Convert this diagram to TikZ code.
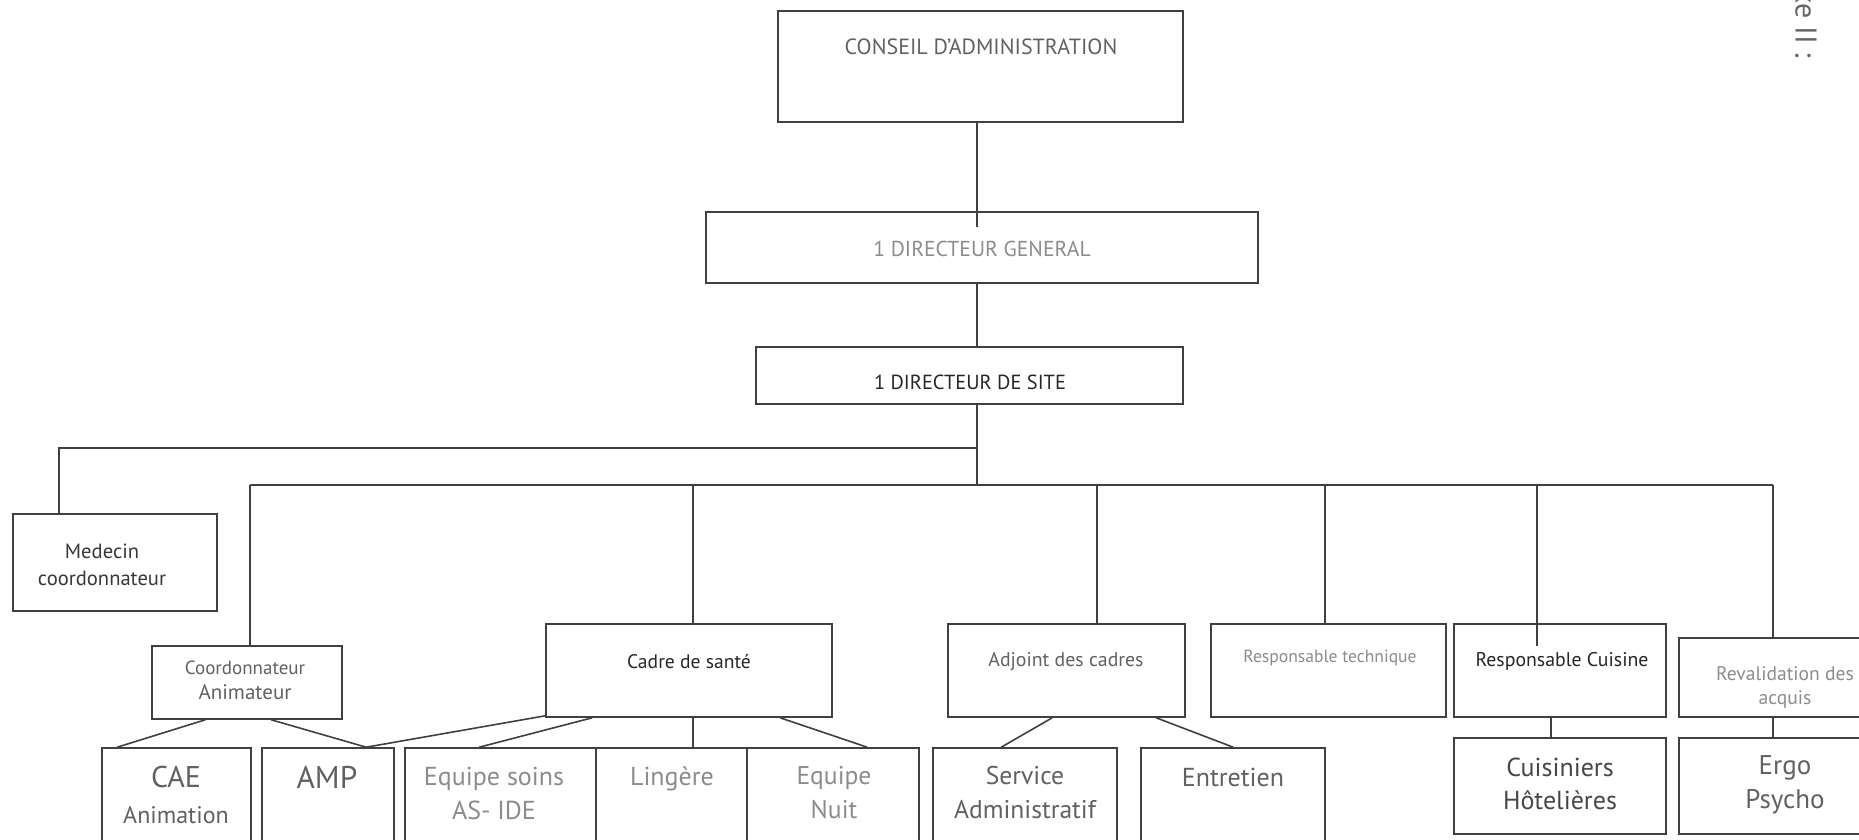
\documentclass[tikz,border=0pt]{standalone}
\usepackage{fontspec}
\setmainfont{PT Sans}
\usetikzlibrary{fit,calc}
\begin{document}
\begin{tikzpicture}[x=0.5pt,y=-0.5pt,
  box/.style={draw=black!75, line width=0.8pt, inner sep=0pt},
  conn/.style={draw=black!75, line width=0.8pt},
  fs/.style 2 args={inner sep=0pt, align=center, font=\fontsize{#1}{#2}\selectfont},
  dk/.style={text=black!85},
  md/.style={text=black!62},
  lt/.style={text=black!45}]
\useasboundingbox (0,0) rectangle (1859,840);
\clip (0,0) rectangle (1859,840);
% boxes
\node[box, fit={(778,11) (1183,122)}] (conseil) {};
\node[box, fit={(706,212) (1258,283)}] (dg) {};
\node[box, fit={(756,347) (1183,404)}] (ds) {};
\node[box, fit={(13,514) (217,611)}] (medecin) {};
\node[box, fit={(152,646) (342,719)}] (coord) {};
\node[box, fit={(546,624) (832,717)}] (cadre) {};
\node[box, fit={(948,624) (1185,717)}] (adjoint) {};
\node[box, fit={(1211,624) (1446,717)}] (tech) {};
\node[box, fit={(1454,624) (1666,717)}] (cuisine) {};
\node[box, fit={(1679,638) (1892,717)}] (reval) {};
\node[box, fit={(102,748) (251,870)}] (cae) {};
\node[box, fit={(262,748) (394,870)}] (amp) {};
\node[box, fit={(405,748) (596,870)}] (soins) {};
\node[box, fit={(596,748) (747,870)}] (lingere) {};
\node[box, fit={(747,748) (919,870)}] (nuit) {};
\node[box, fit={(933,748) (1117,870)}] (admin) {};
\node[box, fit={(1141,748) (1325,870)}] (entretien) {};
\node[box, fit={(1454,738) (1666,834)}] (cuisiniers) {};
\node[box, fit={(1679,738) (1892,834)}] (ergo) {};
% texts
\node[fs={11}{13}, md] (tconseil) at (981,47) {CONSEIL D’ADMINISTRATION};
\node[fs={10.8}{13}, lt] (tdg) at (982,249) {1 DIRECTEUR GENERAL};
\node[fs={10.2}{13}, dk] (tds) at (970,382) {1 DIRECTEUR DE SITE};
\node[fs={10.3}{13.5}, text=black!78] (tmed) at (102,565) {Medecin\\coordonnateur};
\node[fs={9.5}{12.5}, md] (tcoord) at (245,680) {Coordonnateur\\\fontsize{10.5}{12.5}\selectfont Animateur};
\node[fs={9.8}{12}, dk] (tcadre) at (689,662) {Cadre de santé};
\node[fs={9.9}{12}, md] (tadj) at (1066,662) {Adjoint des cadres};
\node[fs={8.8}{12}, lt] (ttech) at (1330,658) {Responsable technique};
\node[fs={9.9}{12}, dk] (tcuis) at (1562,661) {Responsable Cuisine};
\node[fs={9.8}{12}, lt] (treval1) at (1785,674) {Revalidation des};
\node[fs={9.8}{12}, lt] (treval2) at (1785,700) {acquis};
\node[fs={15}{18}, md] (tcae) at (176,795) {CAE\\\fontsize{12}{18}\selectfont Animation};
\node[fs={15.7}{18}, md] (tamp) at (327,777) {AMP};
\node[fs={13}{17}, lt] (tsoins) at (494,793) {Equipe soins\\AS- IDE};
\node[fs={13}{17}, lt] (tling) at (672,779) {Lingère};
\node[fs={12.8}{17}, lt] (tnuit) at (834,793) {Equipe\\Nuit};
\node[fs={12.8}{17}, md] (tadmin) at (1025,793) {Service\\Administratif};
\node[fs={13}{17}, md] (tentr) at (1233,777) {Entretien};
\node[fs={13}{16.5}, text=black!72] (tcuisiniers) at (1560,784) {Cuisiniers\\Hôtelières};
\node[fs={13.5}{17}, md] (tergo) at (1785,785) {Ergo\\Psycho};
\node[fs={15}{15}, text=black!60, rotate=-90, anchor=west] (annexe) at (1806,-12) {xe II :};
% connectors
\coordinate (trunk) at (977,485);
\coordinate (h1) at (977,448);
\draw[conn] (conseil.south -| trunk) -- ($(dg.north -| trunk)+(0,16)$);
\draw[conn] (dg.south -| trunk) -- (ds.north -| trunk);
\draw[conn] (ds.south -| trunk) -- (trunk);
\draw[conn] (h1) -| ($(medecin.north west)+(47,0)$);
\coordinate (b1) at (250,485);
\coordinate (b2) at (693,485);
\coordinate (b3) at (1097,485);
\coordinate (b4) at (1325,485);
\coordinate (b5) at (1537,485);
\coordinate (b6) at (1773,485);
\draw[conn] (b1) -- (b6);
\draw[conn] (b1) -- (b1 |- coord.north);
\draw[conn] (b2) -- (b2 |- cadre.north);
\draw[conn] (b3) -- (b3 |- adjoint.north);
\draw[conn] (b4) -- (b4 |- tech.north);
\draw[conn] (b5) -- ($(b5 |- cuisine.north)+(0,23)$);
\draw[conn] (b6) -- (b6 |- reval.north);
\draw[conn] ($(coord.south west)+(54,0)$) -- ($(cae.north west)+(16,0)$);
\draw[conn] ($(coord.south west)+(120,0)$) -- ($(amp.north west)+(105,0)$);
\draw[conn] ($(cadre.south west)+(0,-2)$) -- ($(amp.north west)+(105,0)$);
\draw[conn] ($(cadre.south west)+(47,0)$) -- ($(soins.north west)+(75,0)$);
\draw[conn] (b2 |- cadre.south) -- (b2 |- lingere.north);
\draw[conn] ($(cadre.south west)+(235,0)$) -- ($(nuit.north west)+(121,0)$);
\draw[conn] ($(adjoint.south west)+(105,0)$) -- ($(admin.north west)+(69,0)$);
\draw[conn] ($(adjoint.south west)+(209,0)$) -- ($(entretien.north west)+(93,0)$);
\draw[conn] ($(cuisine.south west)+(98,0)$) -- ($(cuisiniers.north west)+(98,0)$);
\draw[conn] (b6 |- reval.south) -- (b6 |- ergo.north);
\end{tikzpicture}
\end{document}
